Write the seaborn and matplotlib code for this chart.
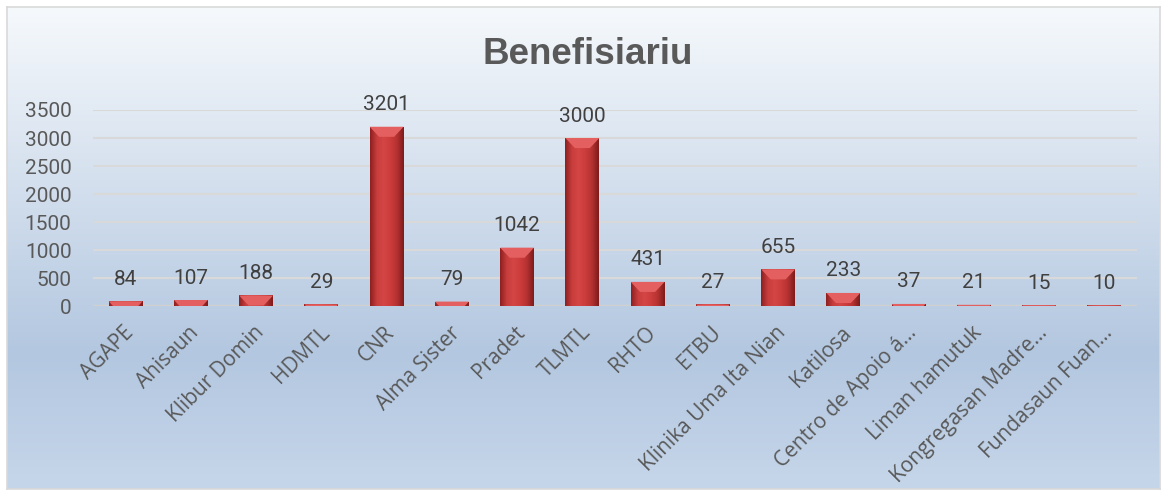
import numpy as np
import pandas as pd
import seaborn as sns
import matplotlib
matplotlib.use("Agg")
import matplotlib.pyplot as plt
from matplotlib.colors import LinearSegmentedColormap
from matplotlib.patches import Polygon
from matplotlib.transforms import ScaledTranslation

organizasaun = ["AGAPE", "Ahisaun", "Klibur Domin", "HDMTL", "CNR", "Alma Sister",
                "Pradet", "TLMTL", "RHTO", "ETBU", "Klinika Uma Ita Nian", "Katilosa",
                "Centro de Apoio á…", "Liman hamutuk", "Kongregasan Madre…", "Fundasaun Fuan…"]
benefisiariu = [84, 107, 188, 29, 3201, 79, 1042, 3000, 431, 27, 655, 233, 37, 21, 15, 10]
y_ticks = [0, 500, 1000, 1500, 2000, 2500, 3000, 3500]

W, H = 1163, 490
text_grey = "#595959"

sns.set_theme(style="white")
plt.rcParams['font.family'] = ['Roboto', 'DejaVu Sans']

fig = plt.figure(figsize=(W / 100, H / 100), dpi=100)
fig.patch.set_facecolor("white")

# chart area background (office style gradient)
bg = fig.add_axes([7 / W, 1 / H, 1153 / W, 482 / H], zorder=0)
bg_cmap = LinearSegmentedColormap.from_list(
    "bg", [(0, "#f6f9fc"), (0.72, "#b3c7e0"), (1, "#c6d6ea")])
bg.imshow(np.linspace(0, 1, 256).reshape(-1, 1), aspect="auto", cmap=bg_cmap,
          extent=[0, 1, 0, 1], origin="upper")
bg.set_xticks([])
bg.set_yticks([])
for s in bg.spines.values():
    s.set_color("#d9d9d9")
    s.set_linewidth(1.2)

ax = fig.add_axes([93 / W, 1 - 306 / H, (1137 - 93) / W, (306 - 110) / H], zorder=1)
ax.patch.set_alpha(0)

df = pd.DataFrame({"organizasaun": organizasaun, "benefisiariu": benefisiariu})
sns.barplot(data=df, x="organizasaun", y="benefisiariu", color="#c83a3a",
            width=0.52, ax=ax, zorder=3, edgecolor="none")

bar_cmap = LinearSegmentedColormap.from_list(
    "bar", ["#8e2020", "#c93d3d", "#d44545", "#cc3c3c", "#b53232", "#7e1b1b"])
cap_h = 180  # bevel height in data units
for p, v in zip(ax.patches, benefisiariu):
    x0, w, h = p.get_x(), p.get_width(), p.get_height()
    im = ax.imshow(np.linspace(0, 1, 64).reshape(1, -1), cmap=bar_cmap, aspect="auto",
                   extent=[x0, x0 + w, 0, h], zorder=3.5, interpolation="bicubic")
    im.set_clip_path(p)
    dy = min(cap_h, h)
    dx = w * 0.28 * dy / cap_h
    cap = Polygon([(x0, h), (x0 + w, h), (x0 + w - dx, h - dy), (x0 + dx, h - dy)],
                  closed=True, facecolor="#e46060", edgecolor="none", zorder=3.6)
    ax.add_patch(cap)
    ax.annotate(str(v), (x0 + w / 2, h), xytext=(0, 9), textcoords="offset points",
                ha="center", va="bottom", fontsize=15, color="#404040", zorder=5)

ax.set_xlim(-0.5, len(organizasaun) - 0.5)
ax.set_ylim(0, 3500)
ax.set_yticks(y_ticks)
ax.yaxis.grid(True, color="#d9d9d9", linewidth=1.5, zorder=0)
ax.set_axisbelow(True)
ax.axhline(0, color="#d0d0d0", linewidth=2.5, zorder=2)
for s in ax.spines.values():
    s.set_visible(False)

ax.set_xlabel("")
ax.set_ylabel("")
ax.tick_params(axis="y", length=0, pad=15.5, labelsize=15, labelcolor=text_grey)
ax.tick_params(axis="x", length=0, pad=17)
ax.set_xticks(range(len(organizasaun)))
ax.set_xticklabels(organizasaun, rotation=45, ha="right", va="center",
                   rotation_mode="anchor", fontsize=15, color=text_grey,
                   family=["Open Sans", "DejaVu Sans"])
shift = ScaledTranslation(5 / 100, 0, fig.dpi_scale_trans)
for lbl in ax.get_xticklabels():
    lbl.set_transform(lbl.get_transform() + shift)

fig.text(0.505, 0.889, "Benefisiariu", ha="center", va="center", fontsize=26.5,
         fontweight="bold", color=text_grey,
         family=["Liberation Sans Narrow", "Liberation Sans", "DejaVu Sans"])

fig.savefig("out.png", dpi=100)
